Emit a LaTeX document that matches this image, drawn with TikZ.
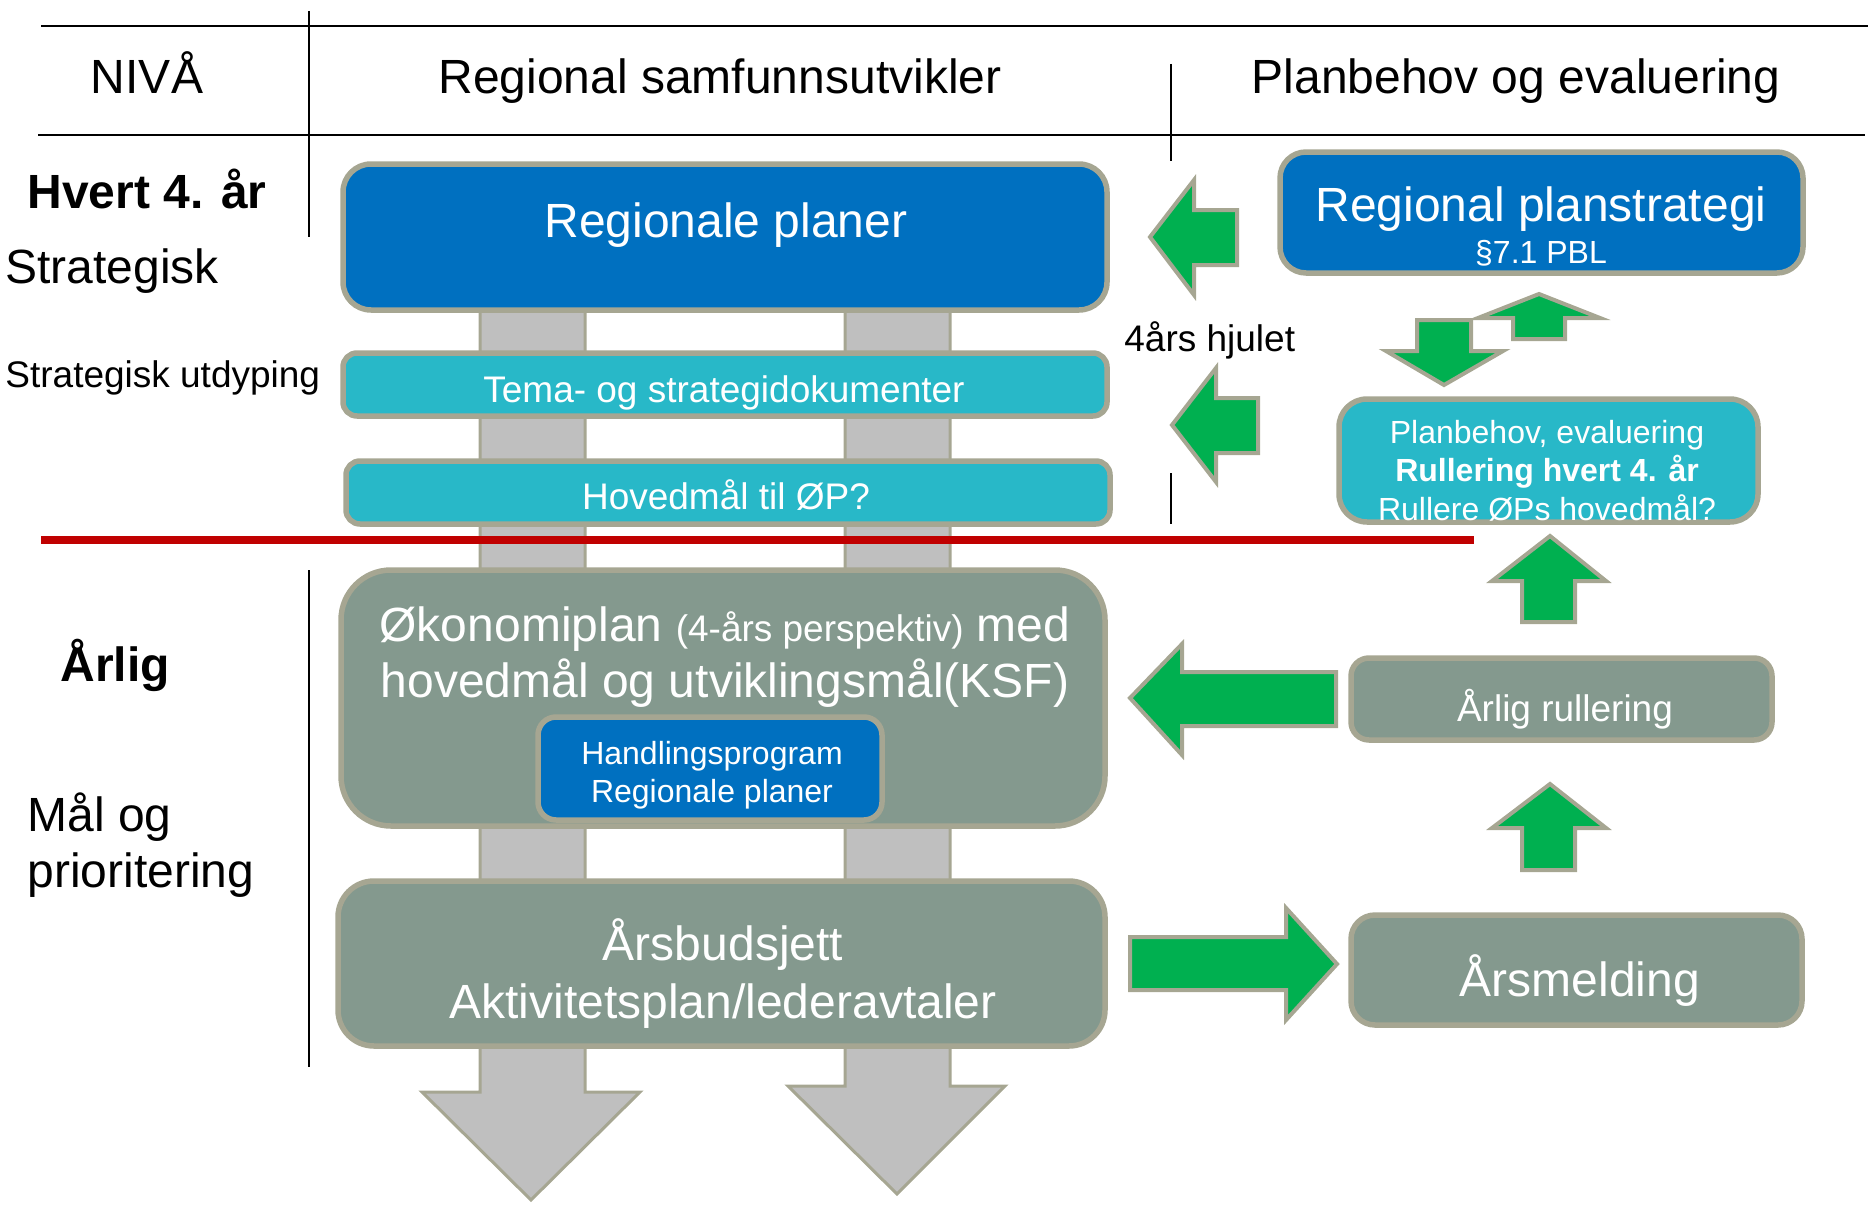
\documentclass[tikz,border=0pt]{standalone}
\usepackage{fontspec}
\setmainfont{Liberation Sans}
\usepackage{tikz}

\definecolor{planblue}{RGB}{0,112,192}
\definecolor{planteal}{RGB}{40,184,200}
\definecolor{plangrey}{RGB}{132,153,142}
\definecolor{edgetan}{RGB}{166,166,146}
\definecolor{pilgreen}{RGB}{0,176,80}
\definecolor{pilgrey}{RGB}{191,191,191}
\definecolor{redline}{RGB}{192,0,0}

\tikzset{
  boxed/.style={draw=edgetan, line width=2.75pt},
  greenpil/.style={fill=pilgreen, draw=edgetan, line width=2pt},
  greypil/.style={fill=pilgrey, draw=edgetan, line width=1.5pt},
  hd/.style={font=\fontsize{24}{29}\selectfont, inner sep=0pt},
  md/.style={font=\fontsize{18.5}{22}\selectfont, inner sep=0pt},
  sm/.style={font=\fontsize{16}{19}\selectfont, inner sep=0pt},
}

\begin{document}
\begin{tikzpicture}[x=0.5pt,y=0.5pt,yscale=-1,xscale=1]
\useasboundingbox (0,0) rectangle (1872,1204);

%Grey down arrows (behind the boxes)
\draw [greypil] (480,300) -- (585,300) -- (585,1092) -- (640,1092) -- (531,1200) -- (422,1092) -- (480,1092) -- cycle ;
\draw [greypil] (845,300) -- (950,300) -- (950,1086) -- (1005,1086) -- (897,1194) -- (788,1086) -- (845,1086) -- cycle ;

%Header lines
\draw [line width=1.2pt] (41,26) -- (1868,26) ;
\draw [line width=1.2pt] (38,135) -- (1865,135) ;
\draw [line width=0.75pt] (309,11) -- (309,237) ;
\draw [line width=0.75pt] (309,570) -- (309,1067) ;
\draw [line width=0.75pt] (1171,64) -- (1171,161) ;
\draw [line width=0.75pt] (1171,473) -- (1171,524) ;

%Red line
\draw [redline, line width=4pt] (41,540) -- (1474,540) ;

%Rounded Rect: left column
\draw [boxed, fill=planblue, rounded corners=14pt] (343,164) rectangle (1107,310) ;
\draw [boxed, fill=planteal, rounded corners=7pt] (343,353) rectangle (1107,416) ;
\draw [boxed, fill=planteal, rounded corners=7pt] (346,461) rectangle (1110,524) ;
\draw [boxed, fill=plangrey, rounded corners=25pt] (341,570) rectangle (1105,826) ;
\draw [boxed, fill=planblue, rounded corners=9pt] (538,717) rectangle (882,820) ;
\draw [boxed, fill=plangrey, rounded corners=18pt] (338,881) rectangle (1105,1046) ;

%Rounded Rect: right column
\draw [boxed, fill=planblue, rounded corners=13pt] (1280,152) rectangle (1803,273) ;
\draw [boxed, fill=planteal, rounded corners=14pt] (1339,399) rectangle (1758,522) ;
\draw [boxed, fill=plangrey, rounded corners=9pt] (1351,658) rectangle (1772,740) ;
\draw [boxed, fill=plangrey, rounded corners=12pt] (1351,915) rectangle (1802,1025) ;

%Green block arrows
\draw [greenpil] (1150,237) -- (1194,180) -- (1194,210) -- (1237,210) -- (1237,265) -- (1194,265) -- (1194,295) -- cycle ;
\draw [greenpil] (1172,425) -- (1216,368) -- (1216,398) -- (1258,398) -- (1258,453) -- (1216,453) -- (1216,482) -- cycle ;
\draw [greenpil] (1417,320) -- (1471,320) -- (1471,351) -- (1503,351) -- (1444,385) -- (1386,351) -- (1417,351) -- cycle ;
\draw [greenpil] (1539,294) -- (1600,318) -- (1565,318) -- (1565,339) -- (1513,339) -- (1513,318) -- (1478,318) -- cycle ;
\draw [greenpil] (1550,536) -- (1606,581) -- (1575,581) -- (1575,622) -- (1522,622) -- (1522,581) -- (1492,581) -- cycle ;
\draw [greenpil] (1550,784) -- (1606,828) -- (1575,828) -- (1575,870) -- (1522,870) -- (1522,828) -- (1492,828) -- cycle ;
\draw [greenpil] (1130,698) -- (1182,644) -- (1182,672) -- (1336,672) -- (1336,726) -- (1182,726) -- (1182,755) -- cycle ;
\draw [greenpil] (1130,937) -- (1286,937) -- (1286,908) -- (1337,964) -- (1286,1020) -- (1286,990) -- (1130,990) -- cycle ;

% Text Node: headers
\node [hd, anchor=base] (niva) at (147,94) {NIVÅ};
\node [hd, anchor=base] (samf) at (720,94) {Regional samfunnsutvikler};
\node [hd, anchor=base] (behov) at (1516,94) {Planbehov og evaluering};

% Text Node: level labels
\node [hd, anchor=base west] (hvert) at (27,208) {\bfseries Hvert 4. år};
\node [hd, anchor=base west] (strat) at (5,283) {Strategisk};
\node [md, anchor=base west] (utdyp) at (5,387) {Strategisk utdyping};
\node [hd, anchor=base west] (arlig) at (60,681) {\bfseries Årlig};
\node [hd, anchor=base west] (malog) at (27,831) {Mål og};
\node [hd, anchor=base west] (prior) at (27,887) {prioritering};
\node [md, anchor=base west] (hjul) at (1124,351) {4års hjulet};

% Text Node: left column
\node [hd, text=white, anchor=base] (regplan) at (726,237) {Regionale planer};
\node [md, text=white, anchor=base] (tema) at (724,402) {Tema- og strategidokumenter};
\node [md, text=white, anchor=base] (hovmal) at (726,509) {Hovedmål til ØP?};
\node [hd, text=white, anchor=base] (okon) at (725,641) {Økonomiplan {\fontsize{18.5}{22}\selectfont (4-års perspektiv)} med};
\node [hd, text=white, anchor=base] (okonb) at (725,697) {hovedmål og utviklingsmål(KSF)};
\node [sm, text=white, anchor=base] (handl) at (712,764) {Handlingsprogram};
\node [sm, text=white, anchor=base] (handlb) at (712,802) {Regionale planer};
\node [hd, text=white, anchor=base] (budsj) at (723,960) {Årsbudsjett};
\node [hd, text=white, anchor=base] (aktiv) at (723,1018) {Aktivitetsplan/lederavtaler};

% Text Node: right column
\node [hd, text=white, anchor=base] (planstr) at (1541,221) {Regional planstrategi};
\node [sm, text=white, anchor=base] (pbl) at (1541,263) {§7.1 PBL};
\node [sm, text=white, anchor=base] (evalu) at (1547,443) {Planbehov, evaluering};
\node [sm, text=white, anchor=base] (rull) at (1547,481) {\bfseries Rullering hvert 4. år};
\node [sm, text=white, anchor=base] (rullop) at (1547,520) {Rullere ØPs hovedmål?};
\node [md, text=white, anchor=base] (arull) at (1565,721) {Årlig rullering};
\node [hd, text=white, anchor=base] (ameld) at (1580,996) {Årsmelding};

\end{tikzpicture}
\end{document}
